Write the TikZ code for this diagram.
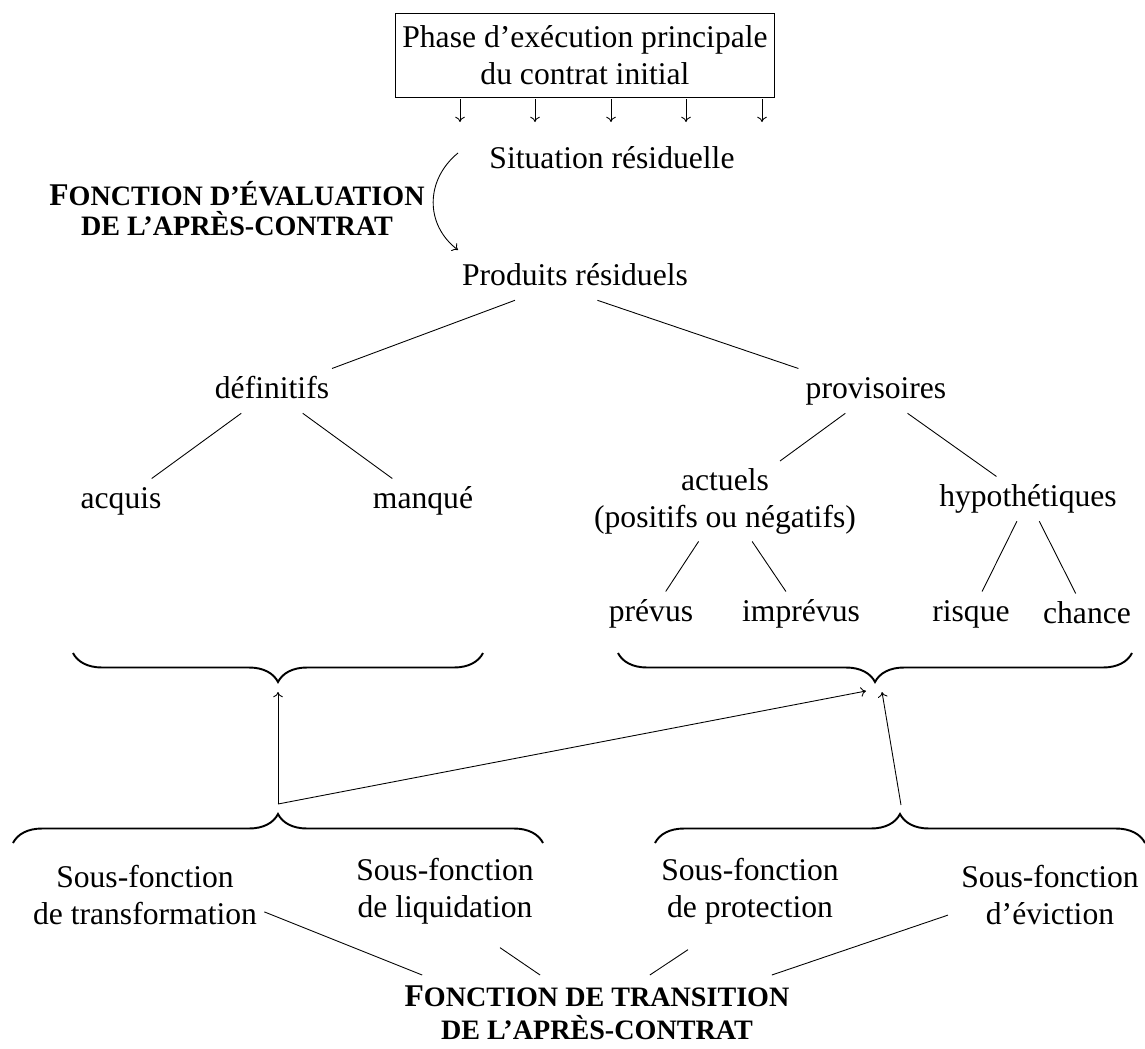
\documentclass[tikz,border=0pt]{standalone}
\usepackage{fontspec}
\setmainfont{Liberation Serif}
\usetikzlibrary{decorations.pathreplacing,calc,arrows.meta}
\newcommand{\petitcap}[2]{{\bfseries #1{\fontsize{16}{16}\selectfont #2}}}

\begin{document}
\begin{tikzpicture}[x=0.02cm,y=-0.02cm,font=\fontsize{18}{21}\selectfont,
  mot/.style={inner sep=4pt, text height=12.6pt, text depth=4.5pt, anchor=base},
  bloc/.style={align=center, inner sep=4pt, anchor=north},
  titre/.style={align=center, inner sep=4pt, anchor=north},
  trait/.style={line width=0.5pt},
  fleche/.style={-{To[length=3pt,width=5.5pt]}, line width=0.5pt},
  accolade/.style={decorate, decoration={brace, amplitude=0.58cm}, line width=1.1pt}]
\useasboundingbox (0,0) rectangle (1145,1048);

\node[draw, align=center, anchor=north, inner xsep=4pt, inner ysep=7pt, line width=0.6pt] (phase) at (585,13) {Phase d’exécution principale\\du contrat initial};
\foreach \x in {460,535,611,686,762}
   \draw[fleche] (\x,99) -- (\x,122);

\node[mot] (situ) at (612,168) {Situation résiduelle};
\node[titre, font=\fontsize{18}{17}\selectfont] (eval) at (237,174) {\petitcap{F}{ONCTION D’ÉVALUATION}\\\petitcap{}{DE L’APRÈS-CONTRAT}};
\coordinate (evalhaut) at (458,153);
\coordinate (evalbas) at (458,250);
\draw[fleche] (evalhaut) .. controls (425,180) and (425,225) .. (evalbas);

\node[mot] (prod) at (575,285) {Produits résiduels};
\node[mot] (def) at (272,398) {définitifs};
\node[mot] (prov) at (876,398) {provisoires};
\node[mot] (acq) at (121,508) {acquis};
\node[mot] (manq) at (423,508) {manqué};
\node[bloc] (act) at (725,461) {actuels\\(positifs ou négatifs)};
\node[mot] (hypo) at (1028,506) {hypothétiques};
\node[mot] (prev) at (651,621) {prévus};
\node[mot] (impr) at (801,621) {imprévus};
\node[mot] (risq) at (971,621) {risque};
\node[mot] (chan) at (1087,623) {chance};

\draw[trait] (prod) -- (def);
\draw[trait] (prod.-45) -- (prov.north west);
\draw[trait] (def) -- (acq);
\draw[trait] (def) -- (manq);
\draw[trait] (prov) -- (act);
\draw[trait] (prov) -- (hypo);
\draw[trait] (act) -- (prev);
\draw[trait] (act) -- (impr);
\draw[trait] (hypo) -- (risq);
\draw[trait] (hypo) -- (chan);

\draw[accolade] (483,653) -- (73,653);
\draw[accolade] (1132,653) -- (618,653);
\draw[accolade] (13,843) -- (543,843);
\draw[accolade] (655,843) -- (1145,843);

\coordinate (jonction) at (278,804);
\coordinate (pointeg) at (278,692);
\coordinate (pointed) at (866,691);
\coordinate (departd) at (901,805);
\coordinate (pointed2) at (882,692);
\draw[fleche] (jonction) -- (pointeg);
\draw[fleche] (jonction) -- (pointed);
\draw[fleche] (departd) -- (pointed2);

\node[bloc] (trans) at (145,858) {Sous-fonction\\de transformation};
\node[bloc] (liq) at (445,851) {Sous-fonction\\de liquidation};
\node[bloc] (prot) at (750,851) {Sous-fonction\\de protection};
\node[bloc] (evic) at (1050,858) {Sous-fonction\\d’éviction};
\node[titre, inner sep=6pt, font=\fontsize{18}{18.7}\selectfont] (fin) at (597,975) {\petitcap{F}{ONCTION DE TRANSITION}\\\petitcap{}{DE L’APRÈS-CONTRAT}};

\draw[trait] (trans.-8) -- ($(fin.north west)!.07!(fin.north east)$);
\draw[trait] ($(liq.south)+(55,16)$) -- ($(fin.north west)!.36!(fin.north east)$);
\draw[trait] ($(prot.south)+(-62,18)$) -- ($(fin.north west)!.63!(fin.north east)$);
\draw[trait] ($(evic.west)+(-6,20)$) -- ($(fin.north west)!.93!(fin.north east)$);
\end{tikzpicture}
\end{document}
